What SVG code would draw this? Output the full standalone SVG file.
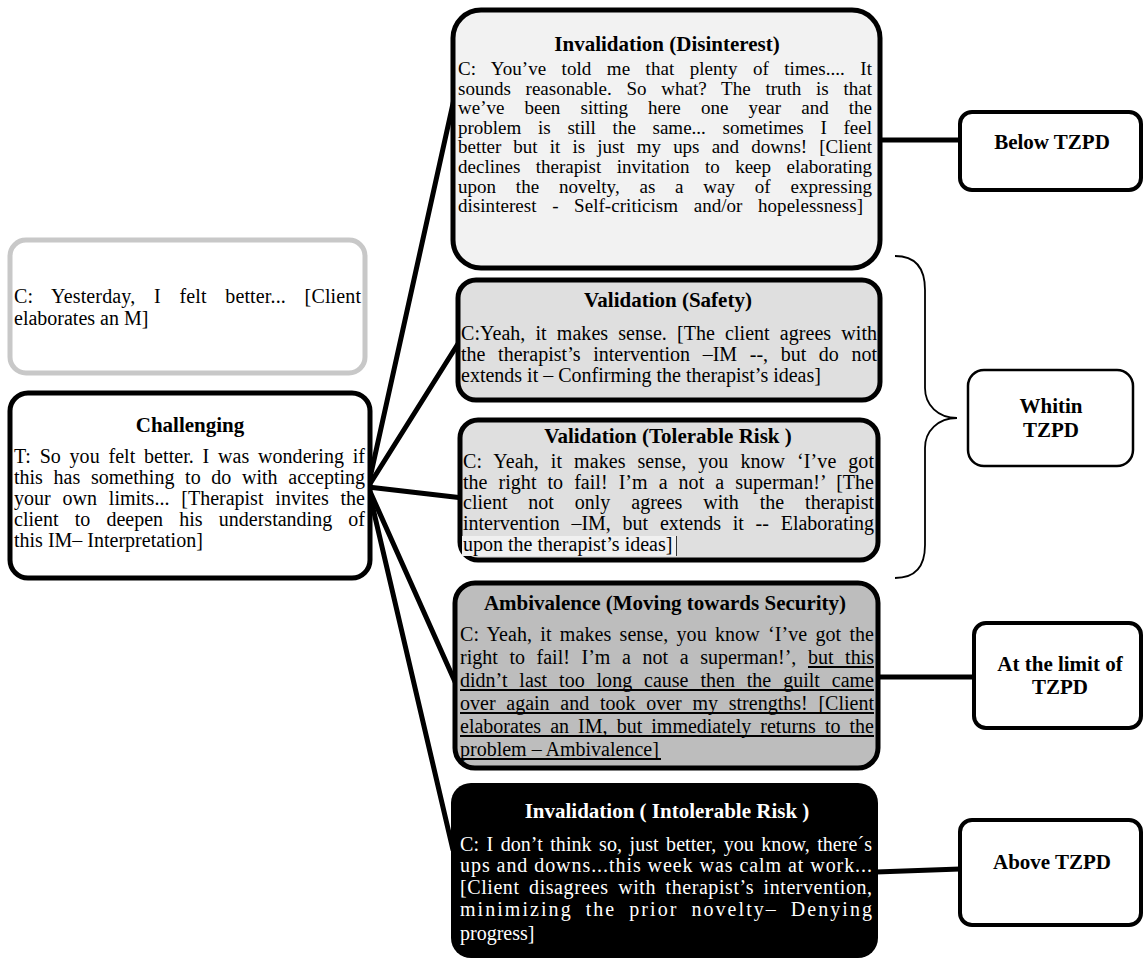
<svg xmlns="http://www.w3.org/2000/svg" width="1143" height="960" viewBox="0 0 1143 960">
<style>
text{font-family:"Liberation Serif","Times New Roman",serif;fill:#000}
.b{font-size:20px}
.d{font-size:19px}
.t{font-size:21px;font-weight:bold;text-anchor:middle}
.r{font-size:21px;font-weight:bold;text-anchor:middle}
.w{fill:#fff}
.box{stroke:#000;stroke-width:5}
.side{fill:#fff;stroke:#000;stroke-width:4}
.con{stroke:#000;stroke-width:5;fill:none;stroke-linecap:round}
.ul{stroke:#000;stroke-width:2}
</style>
<rect width="1143" height="960" fill="#fff"/>
<g id="connectors">
<line class="con" x1="368" y1="487" x2="456" y2="90"/>
<line class="con" x1="368" y1="487" x2="461" y2="339"/>
<line class="con" x1="368" y1="487" x2="463" y2="498"/>
<line class="con" x1="368" y1="487" x2="456" y2="684"/>
<line class="con" x1="368" y1="487" x2="453" y2="850"/>
<line class="con" x1="878" y1="140" x2="960" y2="140"/>
<line class="con" x1="876" y1="677" x2="974" y2="677"/>
<line class="con" x1="876" y1="872" x2="960" y2="869"/>
<path d="M895,256 C915,256 925,268 925,290 L925,388 C925,405 938,418 957,418 C938,418 925,431 925,448 L925,545 C925,567 915,578 895,578" fill="none" stroke="#000" stroke-width="1.8"/>
</g>
<g id="moment">
<rect x="10" y="240" width="355" height="133" rx="16" fill="#fff" stroke="#c8c8c8" stroke-width="5"/>
<text class="b" x="14" y="303" word-spacing="13.5" textLength="347" lengthAdjust="spacing">C: Yesterday, I felt better... [Client</text>
<text class="b" x="14" y="325">elaborates an M]</text>
</g>
<g id="challenging">
<rect class="box" x="10" y="393" width="360" height="185" rx="18" fill="#fff"/>
<text class="t" x="190" y="432">Challenging</text>
<text class="b" x="14" y="463" word-spacing="3.7" textLength="351" lengthAdjust="spacing">T: So you felt better. I was wondering if</text>
<text class="b" x="14" y="484" word-spacing="5.7" textLength="351" lengthAdjust="spacing">this has something to do with accepting</text>
<text class="b" x="14" y="505" word-spacing="6.9" textLength="351" lengthAdjust="spacing">your own limits... [Therapist invites the</text>
<text class="b" x="14" y="526" word-spacing="11.2" textLength="351" lengthAdjust="spacing">client to deepen his understanding of</text>
<text class="b" x="14" y="547">this IM– Interpretation]</text>
</g>
<g id="disinterest">
<rect class="box" x="453" y="10" width="427" height="258" rx="28" fill="#f2f2f2"/>
<text class="t" x="667" y="51">Invalidation (Disinterest)</text>
<text class="d" x="458" y="75" word-spacing="10.6" textLength="414" lengthAdjust="spacing">C: You’ve told me that plenty of times.... It</text>
<text class="d" x="458" y="94.6" word-spacing="10" textLength="414" lengthAdjust="spacing">sounds reasonable. So what? The truth is that</text>
<text class="d" x="458" y="114.2" word-spacing="15.4" textLength="414" lengthAdjust="spacing">we’ve been sitting here one year and the</text>
<text class="d" x="458" y="133.8" word-spacing="12" textLength="414" lengthAdjust="spacing">problem is still the same... sometimes I feel</text>
<text class="d" x="458" y="153.4" word-spacing="7.35" textLength="414" lengthAdjust="spacing">better but it is just my ups and downs! [Client</text>
<text class="d" x="458" y="173" word-spacing="10.7" textLength="414" lengthAdjust="spacing">declines therapist invitation to keep elaborating</text>
<text class="d" x="458" y="192.6" word-spacing="15" textLength="414" lengthAdjust="spacing">upon the novelty, as a way of expressing</text>
<text class="d" x="458" y="212.2" word-spacing="10.8" textLength="405" lengthAdjust="spacing">disinterest - Self-criticism and/or hopelessness]</text>
</g>
<g id="safety">
<rect class="box" x="458" y="280" width="422" height="120" rx="18" fill="#dfdfdf"/>
<text class="t" x="668" y="307">Validation (Safety)</text>
<text class="b" x="461" y="340" word-spacing="5.1" textLength="416" lengthAdjust="spacing">C:Yeah, it makes sense. [The client agrees with</text>
<text class="b" x="461" y="361" word-spacing="7.5" textLength="416" lengthAdjust="spacing">the therapist’s intervention –IM --, but do not</text>
<text class="b" x="461" y="382">extends it – Confirming the therapist’s ideas]</text>
</g>
<g id="tolerable">
<rect class="box" x="460" y="420" width="418" height="140" rx="18" fill="#dfdfdf"/>
<text class="t" x="668" y="443">Validation (Tolerable Risk )</text>
<text class="b" x="463" y="468" word-spacing="6.9" textLength="411" lengthAdjust="spacing">C: Yeah, it makes sense, you know ‘I’ve got</text>
<text class="b" x="463" y="489" word-spacing="6" textLength="411" lengthAdjust="spacing">the right to fail! I’m a not a superman!’ [The</text>
<text class="b" x="463" y="509" word-spacing="15.9" textLength="411" lengthAdjust="spacing">client not only agrees with the therapist</text>
<text class="b" x="463" y="530" word-spacing="6.75" textLength="411" lengthAdjust="spacing">intervention –IM, but extends it -- Elaborating</text>
<rect x="462" y="536" width="214" height="20" fill="#f0f0f0"/>
<line x1="676.5" y1="536" x2="676.5" y2="556" stroke="#333" stroke-width="1"/>
<text class="b" x="463" y="551">upon the therapist’s ideas]</text>
</g>
<g id="ambivalence">
<rect class="box" x="455" y="583" width="423" height="185" rx="20" fill="#bdbdbd"/>
<text class="t" x="665" y="610">Ambivalence (Moving towards Security)</text>
<text class="b" x="460" y="641" word-spacing="3.2" textLength="414" lengthAdjust="spacing">C: Yeah, it makes sense, you know ‘I’ve got the</text>
<text class="b" x="460" y="664" word-spacing="6.6" textLength="414" lengthAdjust="spacing">right to fail! I’m a not a superman!’, but this</text>
<text class="b" x="460" y="687" word-spacing="6.9" textLength="414" lengthAdjust="spacing">didn’t last too long cause then the guilt came</text>
<text class="b" x="460" y="710" word-spacing="5.7" textLength="414" lengthAdjust="spacing">over again and took over my strengths! [Client</text>
<text class="b" x="460" y="733" word-spacing="4.1" textLength="414" lengthAdjust="spacing">elaborates an IM, but immediately returns to the</text>
<text class="b" x="460" y="756">problem – Ambivalence]</text>
<line class="ul" x1="808" y1="667" x2="874" y2="667"/>
<line class="ul" x1="460" y1="690" x2="874" y2="690"/>
<line class="ul" x1="460" y1="713" x2="874" y2="713"/>
<line class="ul" x1="460" y1="736" x2="874" y2="736"/>
<line class="ul" x1="460" y1="759" x2="661" y2="759"/>
</g>
<g id="intolerable">
<rect x="451" y="783" width="427" height="175" rx="20" fill="#000"/>
<text class="t w" x="667" y="818">Invalidation ( Intolerable Risk )</text>
<text class="b w" x="460" y="851" word-spacing="2.4" textLength="412" lengthAdjust="spacing">C: I don’t think so, just better, you know, there´s</text>
<text class="b w" x="460" y="872" textLength="412" lengthAdjust="spacing">ups and downs...this week was calm at work...</text>
<text class="b w" x="460" y="894" word-spacing="4" textLength="412" lengthAdjust="spacing">[Client disagrees with therapist’s intervention,</text>
<text class="b w" x="460" y="916" word-spacing="6" textLength="412" lengthAdjust="spacing">minimizing the prior novelty– Denying</text>
<text class="b w" x="460" y="940">progress]</text>
</g>
<g id="below">
<rect class="side" x="960" y="112" width="181" height="78" rx="12"/>
<text class="r" x="1052" y="149">Below TZPD</text>
</g>
<g id="within">
<rect x="968" y="370" width="165" height="96" rx="16" fill="#fff" stroke="#000" stroke-width="2.5"/>
<text class="r" x="1051" y="413">Whitin</text>
<text class="r" x="1051" y="437">TZPD</text>
</g>
<g id="limit">
<rect class="side" x="974" y="623" width="167" height="105" rx="12"/>
<text class="r" x="1060" y="671">At the limit of</text>
<text class="r" x="1060" y="694">TZPD</text>
</g>
<g id="above">
<rect class="side" x="960" y="820" width="181" height="105" rx="12"/>
<text class="r" x="1052" y="869">Above TZPD</text>
</g>
</svg>
